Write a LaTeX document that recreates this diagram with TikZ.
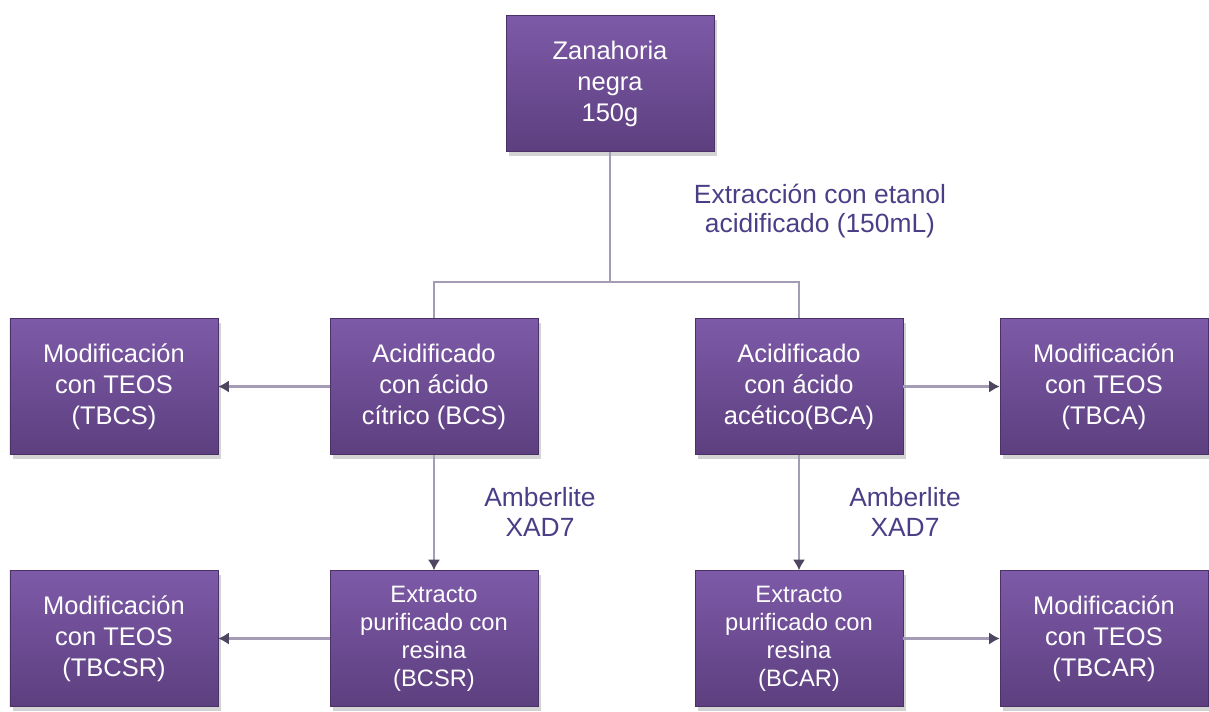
\documentclass[tikz,border=0pt]{standalone}
\usepackage{fontspec}
\setmainfont{Liberation Sans}
\usetikzlibrary{shadows,arrows.meta}

\definecolor{boxtop}{HTML}{7D5AA8}
\definecolor{boxbot}{HTML}{5D3F7F}
\definecolor{linegray}{HTML}{A49CB4}
\definecolor{tipgray}{HTML}{4E4660}
\definecolor{labelpurple}{HTML}{4A3F86}

\begin{document}
\begin{tikzpicture}[
    paso/.style={rectangle, minimum width=4.16cm, minimum height=2.72cm,
        top color=boxtop, bottom color=boxbot, draw=boxbot!80!black, line width=0.3pt,
        drop shadow={shadow xshift=0.06cm, shadow yshift=-0.08cm, opacity=0.35},
        text=white, align=center, font=\fontsize{14.5}{17.6}\selectfont, inner sep=2pt},
    pasochico/.style={paso, font=\fontsize{13.5}{16}\selectfont},
    etiqueta/.style={text=labelpurple, align=center, font=\fontsize{15}{17}\selectfont},
    linea/.style={draw=linegray, line width=1.3pt},
    flecha/.style={linea, -{Latex[length=6pt,width=7pt,color=tipgray]}}
]
    \useasboundingbox (0,0) rectangle (24.18,-14.22);

    % -- Materia prima --
    \node[paso] (zanahoria) at (12.2,-1.67) {Zanahoria\\negra\\150g};

    % -- Acidificacion (fila 2) --
    \node[paso] (bcs)  at (8.68,-7.73)  {Acidificado\\con ácido\\cítrico (BCS)};
    \node[paso] (bca)  at (15.98,-7.73) {Acidificado\\con ácido\\acético(BCA)};
    \node[paso] (tbcs) at (2.28,-7.73)  {Modificación\\con TEOS\\(TBCS)};
    \node[paso] (tbca) at (22.08,-7.73) {Modificación\\con TEOS\\(TBCA)};

    % -- Purificacion con resina (fila 3) --
    \node[pasochico] (bcsr)  at (8.68,-12.77)  {Extracto\\purificado con\\resina\\(BCSR)};
    \node[pasochico] (bcar)  at (15.98,-12.77) {Extracto\\purificado con\\resina\\(BCAR)};
    \node[paso] (tbcsr) at (2.28,-12.77)  {Modificación\\con TEOS\\(TBCSR)};
    \node[paso] (tbcar) at (22.08,-12.77) {Modificación\\con TEOS\\(TBCAR)};

    % -- Rama de extraccion --
    \coordinate (rama) at (12.2,-5.64);
    \draw[linea] (zanahoria.south) -- (rama);
    \draw[linea] (rama) -| (bcs.north);
    \draw[linea] (rama) -| (bca.north);
    \node[etiqueta] (extraccion) at (16.4,-4.22) {Extracción con etanol\\acidificado (150mL)};

    % -- Flechas horizontales --
    \draw[flecha] (bcs.west) -- (tbcs.east);
    \draw[flecha] (bca.east) -- (tbca.west);
    \draw[flecha] (bcsr.west) -- (tbcsr.east);
    \draw[flecha] (bcar.east) -- (tbcar.west);

    % -- Resina --
    \draw[flecha] (bcs.south) -- (bcsr.north);
    \draw[flecha] (bca.south) -- (bcar.north);
    \node[etiqueta] (resina1) at (10.8,-10.24) {Amberlite\\XAD7};
    \node[etiqueta] (resina2) at (18.1,-10.24) {Amberlite\\XAD7};
\end{tikzpicture}
\end{document}
